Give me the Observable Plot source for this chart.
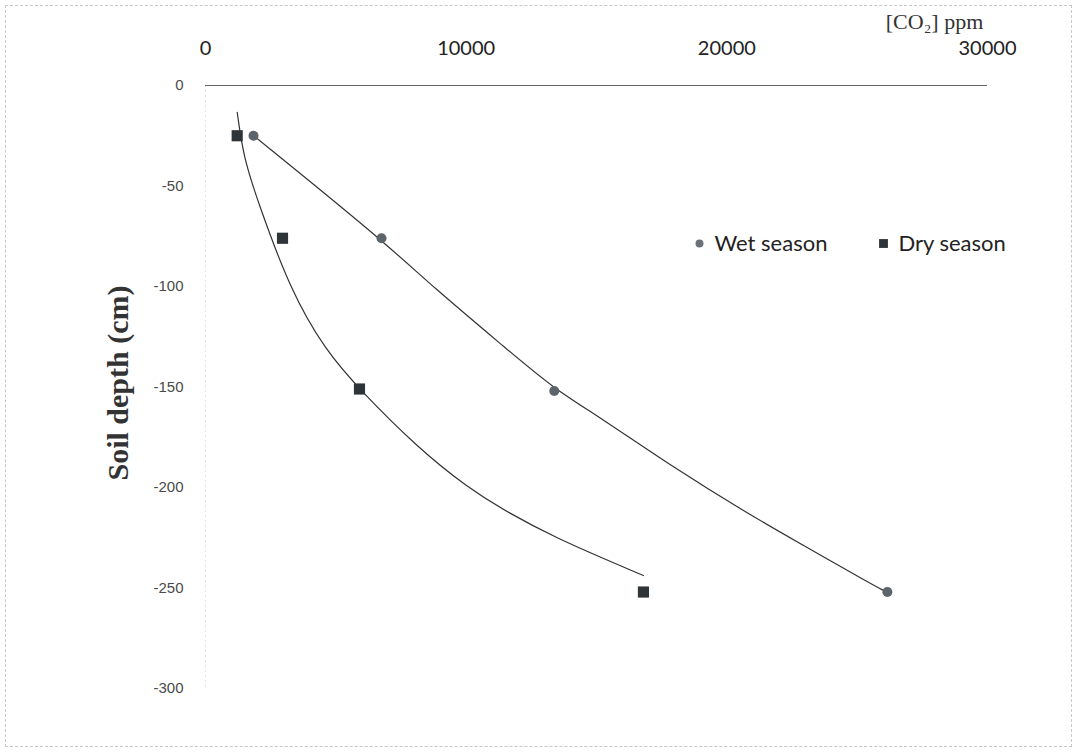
<!DOCTYPE html>
<html>
<head>
<meta charset="utf-8">
<script src="https://cdn.jsdelivr.net/npm/d3@7"></script>
<script src="https://cdn.jsdelivr.net/npm/@observablehq/plot@0.6"></script>
<style>
  html, body { margin: 0; padding: 0; background: #fff; }
  #chart svg { display: block; outline: 1px dashed #c8c8c8; outline-offset: -6px; }
</style>
</head>
<body>
<div id="chart"></div>
<script>
// Tick values
const xTicks = [0, 10000, 20000, 30000];
const yTicks = [0, -50, -100, -150, -200, -250, -300];

// Measured points: CO2 (ppm) vs soil depth (cm)
const wetCO2 = [1841, 6752, 13380, 26160];
const wetDepth = [-25, -76, -152, -252];
const dryCO2 = [1216, 2954, 5907, 16801];
const dryDepth = [-25, -76, -151, -252];

// Trend lines
const wetTrendCO2 = [1841, 6713, 8746, 11623, 13349, 15152, 17837, 20790, 22823, 25508, 26084];
const wetTrendDepth = [-24.9, -76.1, -100.5, -131.8, -150.7, -165.2, -189.1, -212.9, -227.9, -247.8, -251.7];
const dryTrendCO2 = [1216, 1458, 2033, 3260, 4603, 5907, 8132, 10050, 11584, 13502, 15267, 16801];
const dryTrendDepth = [-13.3, -35.8, -58.7, -102.0, -131.8, -151.2, -180.1, -200.0, -212.4, -225.4, -235.3, -243.8];

const zip = (xs, ys) => xs.map((x, i) => ({x, y: ys[i]}));
const wet = zip(wetCO2, wetDepth);
const dry = zip(dryCO2, dryDepth);
const wetTrend = zip(wetTrendCO2, wetTrendDepth);
const dryTrend = zip(dryTrendCO2, dryTrendDepth);

const chart = Plot.plot({
  width: 1077,
  height: 752,
  marginLeft: 205,
  marginRight: 90,
  marginTop: 85,
  marginBottom: 64,
  x: {domain: [0, 30000]},
  y: {domain: [-300, 0]},
  marks: [
    Plot.ruleX([0], {stroke: "#e2e2e2", strokeDasharray: "2,3"}),
    Plot.ruleY([0], {stroke: "#666", strokeWidth: 1}),
    Plot.axisX({anchor: "top", ticks: xTicks, tickSize: 0, tickPadding: 31,
      tickFormat: d => String(d), fontSize: 20, fontFamily: "Lato", fill: "#222", label: null}),
    Plot.axisY({anchor: "left", ticks: yTicks, tickSize: 0, tickPadding: 22,
      tickFormat: d => String(d), fontSize: 15, fontFamily: "Liberation Sans", fill: "#4a4a4a", label: null}),
    Plot.line(dryTrend, {x: "x", y: "y", curve: "basis", stroke: "#333", strokeWidth: 1.2}),
    Plot.line(wetTrend, {x: "x", y: "y", curve: "basis", stroke: "#333", strokeWidth: 1.2}),
    Plot.dot(dry, {x: "x", y: "y", symbol: "square", r: 6.3, fill: "#2f3438", stroke: "none"}),
    Plot.dot(wet, {x: "x", y: "y", symbol: "circle", r: 5, fill: "#5d646b", stroke: "none"}),
    // axis titles
    Plot.text(["Soil depth (cm)"], {frameAnchor: "left", text: d => d, rotate: -90, dx: -87, dy: -4,
      lineAnchor: "middle", fontSize: 30, fontWeight: "bold", fontFamily: "Liberation Serif",
      fill: "#333", textAnchor: "middle"}),
    Plot.text(["[CO₂] ppm"], {frameAnchor: "top-right", text: d => d, dx: -53, dy: -64,
      lineAnchor: "middle", fontSize: 22, fontFamily: "Liberation Serif", fill: "#333", textAnchor: "middle"}),
    // legend
    Plot.dot([0], {frameAnchor: "top-left", dx: 494, dy: 158, r: 4, fill: "#6a7178", symbol: "circle"}),
    Plot.text(["Wet season"], {frameAnchor: "top-left", text: d => d, dx: 509, dy: 158,
      lineAnchor: "middle", textAnchor: "start", fontSize: 22, fontFamily: "Lato", fill: "#222"}),
    Plot.dot([0], {frameAnchor: "top-left", dx: 678, dy: 158, r: 5, fill: "#2f3438", symbol: "square"}),
    Plot.text(["Dry season"], {frameAnchor: "top-left", text: d => d, dx: 693, dy: 158,
      lineAnchor: "middle", textAnchor: "start", fontSize: 22, fontFamily: "Lato", fill: "#222"})
  ]
});
document.getElementById("chart").appendChild(chart);
</script>
</body>
</html>
